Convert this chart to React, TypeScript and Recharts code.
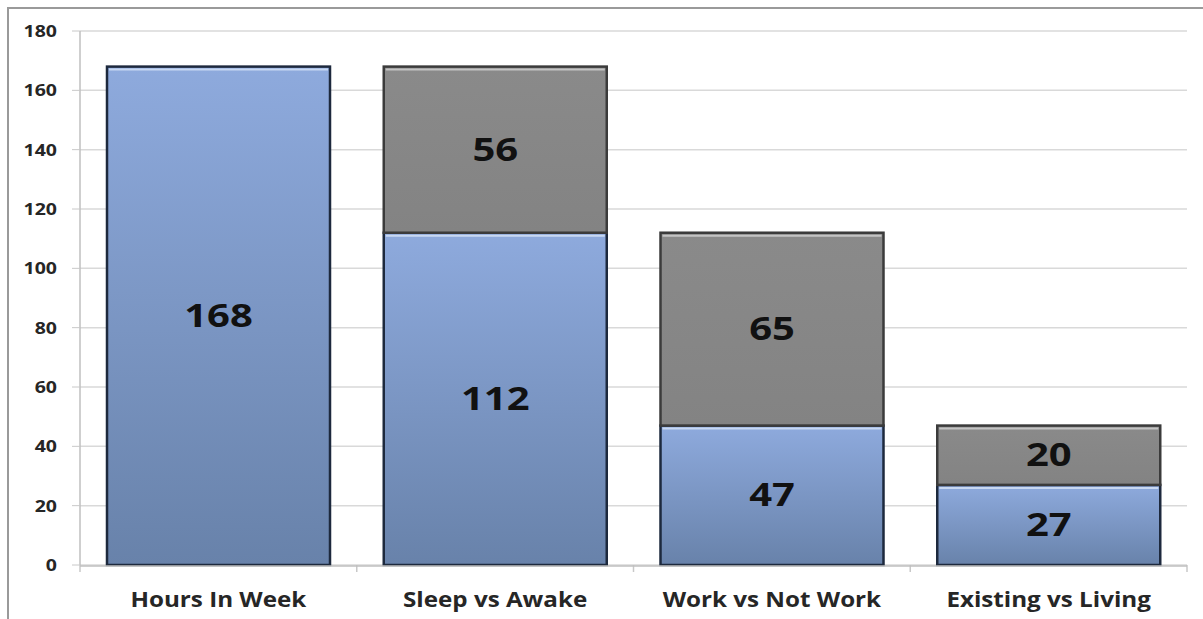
import { BarChart, Bar, XAxis, YAxis, CartesianGrid, LabelList } from 'recharts';

const categories = ['Hours In Week', 'Sleep vs Awake', 'Work vs Not Work', 'Existing vs Living'];
const blueValues = [168, 112, 47, 27];
const grayValues: (number | null)[] = [null, 56, 65, 20];
const yTicks = [0, 20, 40, 60, 80, 100, 120, 140, 160, 180];
const boundTicks = [0, 1, 2, 3, 4];

const data = categories.map((name, i) => ({
  name,
  pos: i + 0.5,
  blue: blueValues[i],
  gray: grayValues[i],
}));

const FONT = '"Open Sans", sans-serif';
const STRETCH = 1.22;

function YTick({ x, y, payload }: any) {
  return (
    <text
      transform={`translate(${x},${y + 6}) scale(${STRETCH},1)`}
      textAnchor="end"
      fontFamily={FONT}
      fontWeight={700}
      fontSize={16}
      fill="#262626"
    >
      {payload.value}
    </text>
  );
}

function CategoryTick({ x, y, payload }: any) {
  return (
    <text
      transform={`translate(${x},${y + 41}) scale(1.1,1)`}
      textAnchor="middle"
      fontFamily={FONT}
      fontWeight={700}
      fontSize={22}
      fill="#262626"
    >
      {payload.value}
    </text>
  );
}

// boundary ticks only need their tick line, no text
function NoLabel() {
  return <g />;
}

function ValueLabel({ x, y, width, height, value }: any) {
  if (value == null || !height) return null;
  return (
    <text
      transform={`translate(${x + width / 2},${y + height / 2 + 11}) scale(1.25,1)`}
      textAnchor="middle"
      fontFamily={FONT}
      fontWeight={700}
      fontSize={32}
      fill="#111"
    >
      {value}
    </text>
  );
}

function makeShape(fill: string, stroke: string, shine: string) {
  return (props: any) => {
    const { x, y, width, height } = props;
    if (!height || height <= 0) return <g />;
    return (
      <g>
        <rect x={x} y={y} width={width} height={height} fill={fill} stroke={stroke} strokeWidth={2.5} />
        <line x1={x + 2} x2={x + width - 2} y1={y + 3} y2={y + 3} stroke={shine} strokeWidth={2} />
      </g>
    );
  };
}

const BlueShape = makeShape('url(#blueFill)', '#1d293d', '#c8d8f2');
const GrayShape = makeShape('url(#grayFill)', '#3b3b3b', '#c4c4c4');

export default function App() {
  return (
    <div style={{ position: 'absolute', left: 0, top: 0, width: 1203, height: 619, background: '#fff' }}>
      <div
        style={{
          position: 'absolute',
          left: 7,
          top: 7,
          right: 0,
          bottom: 0,
          borderTop: '2px solid #9a9a9a',
          borderLeft: '2px solid #9a9a9a',
        }}
      />
      <BarChart
        width={1203}
        height={619}
        data={data}
        margin={{ top: 31, right: 16, left: 20, bottom: 0 }}
        barSize={223}
        style={{ position: 'absolute', left: 0, top: 0 }}
      >
        <defs>
          <linearGradient id="blueFill" x1="0" y1="0" x2="0" y2="1">
            <stop offset="0%" stopColor="#8eaadd" />
            <stop offset="100%" stopColor="#6882aa" />
          </linearGradient>
          <linearGradient id="grayFill" x1="0" y1="0" x2="0" y2="1">
            <stop offset="0%" stopColor="#8a8a8a" />
            <stop offset="100%" stopColor="#838383" />
          </linearGradient>
        </defs>
        <CartesianGrid xAxisId="cat" vertical={false} stroke="#d9d9d9" strokeWidth={1.5} />
        <XAxis
          xAxisId="bounds"
          type="number"
          dataKey="pos"
          domain={[0, 4]}
          ticks={boundTicks}
          interval={0}
          height={1}
          axisLine={false}
          tick={<NoLabel />}
          tickSize={7}
          tickLine={{ stroke: '#c8c8c8', strokeWidth: 1.5 }}
        />
        <XAxis
          xAxisId="cat"
          dataKey="name"
          height={53}
          axisLine={{ stroke: '#bfbfbf', strokeWidth: 1.5 }}
          tickLine={false}
          tickSize={0}
          tickMargin={0}
          interval={0}
          tick={<CategoryTick />}
        />
        <YAxis
          width={60}
          domain={[0, 180]}
          ticks={yTicks}
          interval={0}
          axisLine={{ stroke: '#bfbfbf', strokeWidth: 1.5 }}
          tickLine={{ stroke: '#c8c8c8' }}
          tickSize={8}
          tickMargin={15}
          tick={<YTick />}
        />
        <Bar xAxisId="cat" dataKey="blue" stackId="a" shape={BlueShape} isAnimationActive={false}>
          <LabelList dataKey="blue" content={<ValueLabel />} />
        </Bar>
        <Bar xAxisId="cat" dataKey="gray" stackId="a" shape={GrayShape} isAnimationActive={false}>
          <LabelList dataKey="gray" content={<ValueLabel />} />
        </Bar>
      </BarChart>
    </div>
  );
}
